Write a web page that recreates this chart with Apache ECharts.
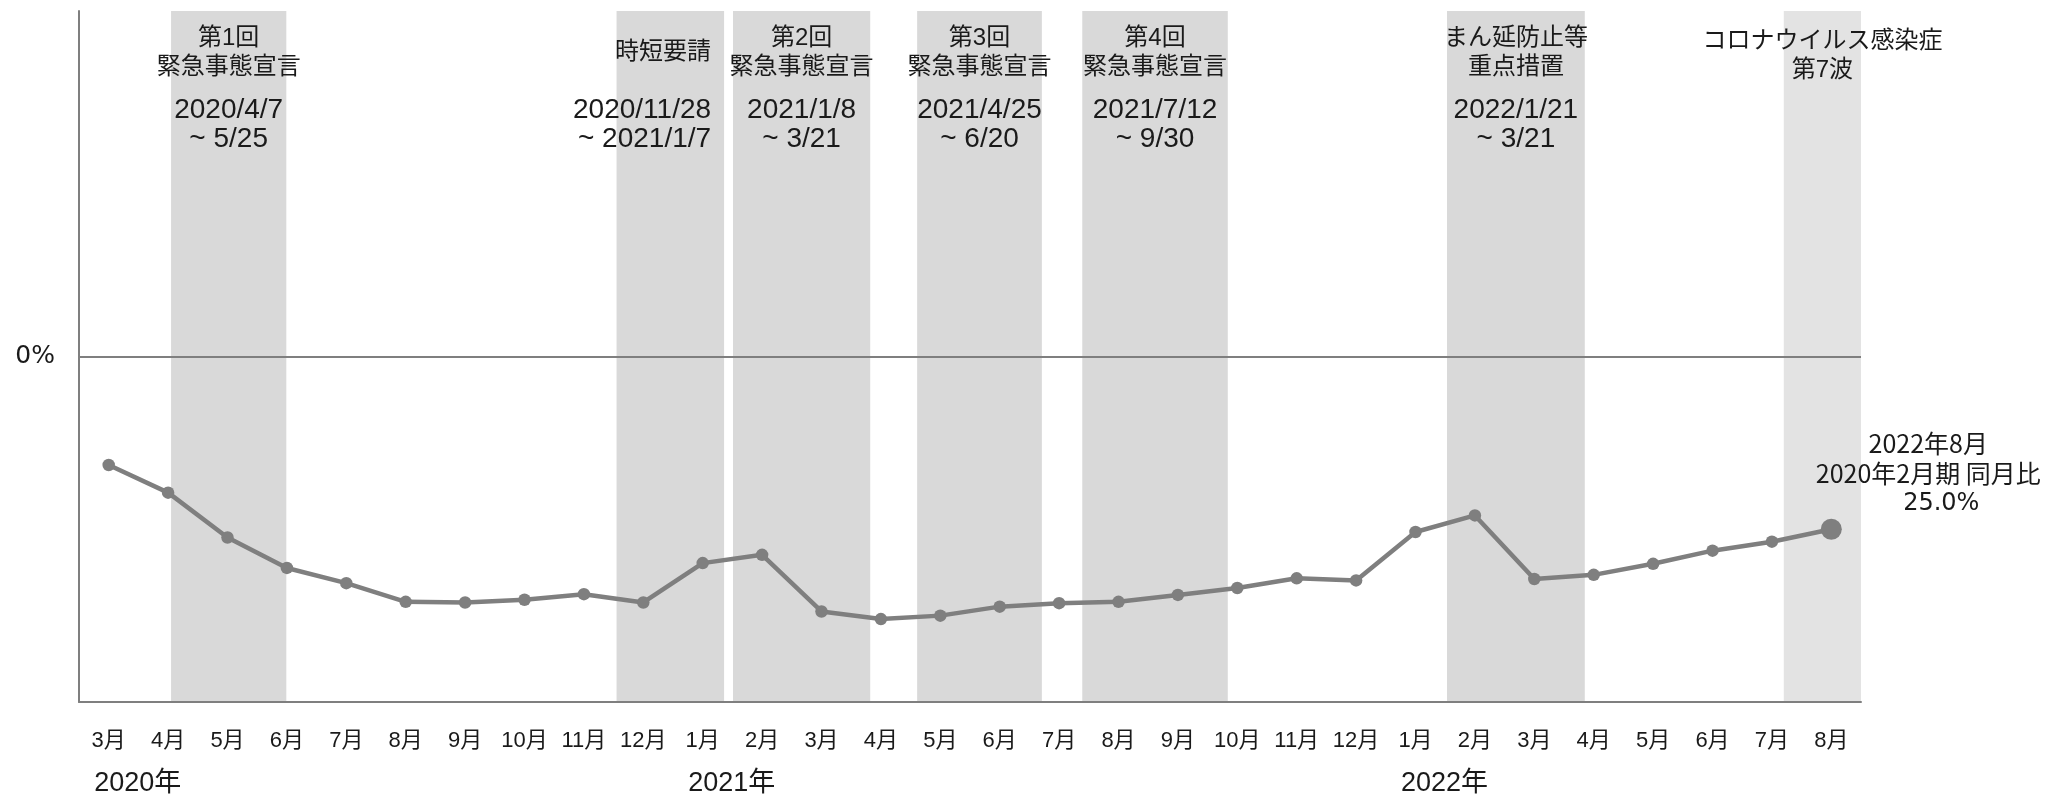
<!DOCTYPE html>
<html>
<head>
<meta charset="utf-8">
<script src="https://cdn.jsdelivr.net/npm/echarts@6/dist/echarts.min.js"></script>
<style>
  html, body { margin: 0; padding: 0; background: #ffffff; }
  #chart { width: 2051px; height: 795px; }
</style>
</head>
<body>
<div id="chart"></div>
<script>
// Monthly categories, March 2020 – August 2022
const months = [
  '3月','4月','5月','6月','7月','8月','9月','10月','11月','12月',
  '1月','2月','3月','4月','5月','6月','7月','8月','9月','10月','11月','12月',
  '1月','2月','3月','4月','5月','6月','7月','8月'
];
// Year captions and the month index where each year begins
const yearStartIndex = [0, 10, 22];
const yearNames = ['2020年', '2021年', '2022年'];

// Change versus the same month of the pre-pandemic period (%)
const changeRate = [
  15.7, 19.7, 26.2, 30.6, 32.8, 35.5, 35.6, 35.2, 34.4, 35.6,
  29.9, 28.7, 36.9, 38.0, 37.5, 36.2, 35.7, 35.5, 34.5, 33.5, 32.1, 32.4,
  25.4, 23.0, 32.2, 31.6, 30.0, 28.1, 26.8, 25.0
];
const latestCaption = ['2022年8月', '2020年2月期 同月比'];

// Restriction periods, expressed in month-index units along the axis
const bandStart = [1.05, 8.55, 10.51, 13.61, 16.39, 22.53, 28.2];
const bandEnd   = [2.99, 10.36, 12.82, 15.71, 18.84, 24.85, 29.5];
const bandTitle = [
  '第1回\n緊急事態宣言',
  '時短要請',
  '第2回\n緊急事態宣言',
  '第3回\n緊急事態宣言',
  '第4回\n緊急事態宣言',
  'まん延防止等\n重点措置',
  'コロナウイルス感染症\n第7波'
];
const bandPeriod = [
  '2020/4/7\n~ 5/25',
  '2020/11/28\n~ 2021/1/7',
  '2021/1/8\n~ 3/21',
  '2021/4/25\n~ 6/20',
  '2021/7/12\n~ 9/30',
  '2022/1/21\n~ 3/21',
  ''
];

// ---- styling ----
const LATIN_CJK = '"Liberation Sans", "Noto Sans CJK JP", sans-serif';
const WIDE_CJK = '"DejaVu Sans", "Noto Sans CJK JP", sans-serif';
const CJK = '"Noto Sans CJK JP", sans-serif';
const TEXT = '#1a1a1a';
const GREY = '#7f7f7f';
const BAND_FILL = '#d9d9d9';
const WAVE_FILL = '#e3e3e3';
const waveBand = bandTitle.length - 1;   // last band is the lighter "wave" band
const rightAlignedBand = 1;             // 時短要請 label hugs its band's right edge

const bandData = bandStart.map((s, i) => [s, bandEnd[i], i]);
const lastIndex = changeRate.length - 1;

const lineData = changeRate.map((v, i) => {
  if (i !== lastIndex) return v;
  return {
    value: v,
    symbolSize: 21,
    label: {
      show: true,
      position: 'top',
      distance: 0,
      offset: [97, 0],
      align: 'center',
      color: TEXT,
      formatter: p => latestCaption.map(t => '{a|' + t + '}').join('\n') +
        '\n{v|' + Number(p.value).toFixed(1) + '%}',
      rich: {
        a: { fontFamily: CJK, fontSize: 25, lineHeight: 30, color: TEXT },
        v: { fontFamily: WIDE_CJK, fontSize: 24, lineHeight: 30, color: TEXT, padding: [0, 0, 0, 26] }
      }
    }
  };
});

function renderBand(params, api) {
  const i = api.value(2);
  const cs = params.coordSys;
  const x0 = api.coord([api.value(0), 0])[0];
  const x1 = api.coord([api.value(1), 0])[0];
  const right = i === rightAlignedBand;
  const tx = right ? x1 - 13 : (x0 + x1) / 2;
  const titleY = cs.y + (i === waveBand ? 45 : 41.5);
  const children = [{
    type: 'rect',
    shape: { x: x0, y: cs.y, width: x1 - x0, height: cs.height },
    style: { fill: i === waveBand ? WAVE_FILL : BAND_FILL }
  }, {
    type: 'text',
    style: {
      text: bandTitle[i], x: tx, y: titleY,
      align: right ? 'right' : 'center', verticalAlign: 'middle',
      fontSize: 24, lineHeight: 29, fontFamily: LATIN_CJK, fill: TEXT
    }
  }];
  if (bandPeriod[i]) {
    children.push({
      type: 'text',
      style: {
        text: bandPeriod[i], x: tx, y: cs.y + 113.5,
        align: right ? 'right' : 'center', verticalAlign: 'middle',
        fontSize: 28, lineHeight: 29, fontFamily: LATIN_CJK, fill: TEXT
      }
    });
  }
  return { type: 'group', children };
}

const chart = echarts.init(document.getElementById('chart'), null, { renderer: 'canvas' });
chart.setOption({
  animation: false,
  backgroundColor: '#ffffff',
  grid: { left: 79, right: 190, top: 11, bottom: 93, containLabel: false, outerBoundsMode: 'none' },
  xAxis: [{
    type: 'category',
    data: months,
    boundaryGap: true,
    z: 5,
    axisLine: { show: true, onZero: false, lineStyle: { color: GREY, width: 2 } },
    axisTick: { show: false },
    splitLine: { show: false },
    axisLabel: {
      interval: 0,
      margin: 24,
      color: TEXT,
      fontFamily: LATIN_CJK,
      formatter: (value, index) => {
        const y = yearStartIndex.indexOf(index);
        return y >= 0 ? '{m|' + value + '}\n{y|' + yearNames[y] + '}' : '{m|' + value + '}';
      },
      rich: {
        m: { fontSize: 22, lineHeight: 30, fontFamily: LATIN_CJK, color: TEXT },
        y: { fontSize: 27, lineHeight: 56, fontFamily: LATIN_CJK, color: TEXT, padding: [0, 0, 0, 58] }
      }
    }
  }, {
    type: 'value',
    show: false,
    min: -0.5,
    max: 29.5
  }],
  yAxis: {
    type: 'value',
    inverse: true,
    min: -50,
    max: 50,
    interval: 50,
    z: 5,
    axisLine: { show: true, onZero: false, lineStyle: { color: GREY, width: 2 } },
    axisTick: { show: false },
    splitLine: { show: false },
    axisLabel: {
      margin: 24,
      color: TEXT,
      fontFamily: WIDE_CJK,
      fontSize: 25,
      formatter: v => (v === 0 ? '0%' : '')
    }
  },
  series: [{
    type: 'custom',
    xAxisIndex: 1,
    yAxisIndex: 0,
    z: 1,
    silent: true,
    clip: false,
    renderItem: renderBand,
    data: bandData
  }, {
    type: 'line',
    xAxisIndex: 0,
    yAxisIndex: 0,
    z: 4,
    data: lineData,
    symbol: 'circle',
    symbolSize: 12.5,
    showAllSymbol: true,
    itemStyle: { color: GREY },
    lineStyle: { color: GREY, width: 4.5 },
    markLine: {
      silent: true,
      symbol: ['none', 'none'],
      label: { show: false },
      lineStyle: { color: GREY, width: 2, type: 'solid' },
      data: [{ yAxis: 0 }]
    }
  }]
});
</script>
</body>
</html>
